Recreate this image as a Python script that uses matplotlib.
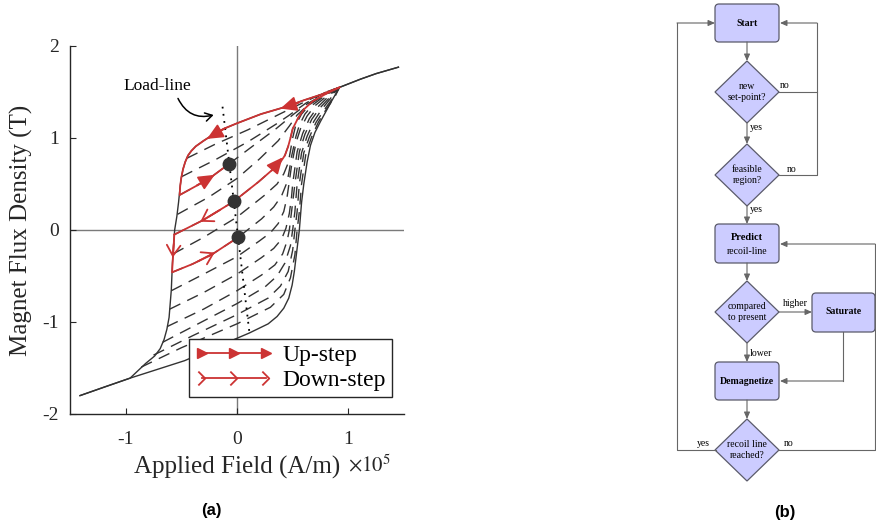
import matplotlib
matplotlib.use('Agg')
import matplotlib.pyplot as plt
from matplotlib.patches import FancyBboxPatch, Polygon
from matplotlib.lines import Line2D
from matplotlib.path import Path

plt.rcParams['font.family'] = ['Liberation Serif', 'DejaVu Serif']
plt.rcParams['mathtext.fontset'] = 'stix'
plt.rcParams['axes.unicode_minus'] = False

# ---------------- data (H in 1e5 A/m, B in T) ----------------
upper_H = [1.45, 1.25, 1.11, 0.92, 0.75, 0.60, 0.44, 0.215, 0.0, -0.12, -0.21, -0.30, -0.37,
           -0.41, -0.44, -0.465, -0.485, -0.50, -0.51, -0.525, -0.54, -0.56, -0.58, -0.59,
           -0.61, -0.63, -0.655, -0.69, -0.74, -0.82, -0.96, -1.22, -1.41]
upper_B = [1.77, 1.70, 1.64, 1.55, 1.47, 1.41, 1.34, 1.26, 1.16, 1.10, 1.04, 0.97, 0.91,
           0.86, 0.81, 0.74, 0.66, 0.57, 0.48, 0.30, 0.15, 0.0, -0.36, -0.65,
           -0.95, -1.08, -1.19, -1.29, -1.37, -1.45, -1.61, -1.72, -1.80]
lower_H = [-1.41, -1.20, -0.96, -0.47, -0.20, 0.11, 0.28, 0.36, 0.42, 0.465, 0.495, 0.515,
           0.535, 0.56, 0.58, 0.60, 0.63, 0.66, 0.70, 0.75, 0.84, 0.92, 1.11, 1.25, 1.45]
lower_B = [-1.80, -1.71, -1.61, -1.42, -1.28, -1.12, -1.02, -0.94, -0.85, -0.74, -0.60, -0.45,
           -0.25, 0.0, 0.3, 0.5, 0.74, 0.92, 1.06, 1.18, 1.38, 1.55, 1.64, 1.70, 1.77]

recoil_H = [
    [-0.45, -0.2, 0.1, 0.40, 0.62, 0.80, 0.92],
    [-0.497, -0.2, 0.1, 0.35, 0.46, 0.62, 0.80, 0.92],
    [-0.515, -0.26, -0.07, 0.15, 0.35, 0.51, 0.63, 0.80, 0.92],
    [-0.535, -0.25, 0.0, 0.2, 0.37, 0.47, 0.54, 0.64, 0.80, 0.92],
    [-0.563, -0.30, -0.03, 0.19, 0.38, 0.43, 0.46, 0.48, 0.50, 0.55, 0.60, 0.68, 0.80, 0.92],
    [-0.574, -0.3, 0.0, 0.25, 0.36, 0.42, 0.46, 0.48, 0.50, 0.53, 0.58, 0.66, 0.80, 0.92],
    [-0.583, -0.40, -0.23, 0.01, 0.22, 0.33, 0.40, 0.45, 0.47, 0.49, 0.53, 0.56, 0.61, 0.68,
     0.80, 0.92],
    [-0.59, -0.3, 0.0, 0.2, 0.30, 0.37, 0.42, 0.45, 0.47, 0.49, 0.53, 0.57, 0.63, 0.70, 0.80,
     0.92],
    [-0.604, -0.3, 0.0, 0.22, 0.33, 0.40, 0.44, 0.47, 0.49, 0.50, 0.54, 0.59, 0.65, 0.72,
     0.82, 0.92],
    [-0.628, -0.3, 0.0, 0.22, 0.34, 0.41, 0.45, 0.47, 0.49, 0.52, 0.56, 0.61, 0.67, 0.74,
     0.84, 0.92],
    [-0.667, -0.35, 0.0, 0.25, 0.36, 0.43, 0.48, 0.50, 0.52, 0.54, 0.58, 0.63, 0.69, 0.76,
     0.86, 0.92],
    [-0.75, -0.4, 0.0, 0.28, 0.39, 0.46, 0.50, 0.52, 0.54, 0.56, 0.60, 0.65, 0.71, 0.78,
     0.87, 0.92],
    [-0.86, -0.5, 0.0, 0.30, 0.42, 0.48, 0.52, 0.54, 0.56, 0.58, 0.62, 0.67, 0.73, 0.79,
     0.88, 0.92],
]
recoil_B = [
    [0.78, 0.93, 1.09, 1.27, 1.40, 1.50, 1.55],
    [0.58, 0.76, 0.96, 1.15, 1.24, 1.38, 1.50, 1.55],
    [0.38, 0.55, 0.72, 0.92, 1.10, 1.26, 1.37, 1.49, 1.55],
    [0.17, 0.36, 0.56, 0.77, 0.97, 1.13, 1.25, 1.36, 1.48, 1.55],
    [-0.05, 0.11, 0.31, 0.52, 0.72, 0.81, 0.91, 1.00, 1.10, 1.22, 1.31, 1.40, 1.48, 1.55],
    [-0.26, -0.08, 0.14, 0.38, 0.50, 0.61, 0.73, 0.86, 1.00, 1.15, 1.26, 1.37, 1.48, 1.55],
    [-0.46, -0.37, -0.27, -0.08, 0.12, 0.25, 0.37, 0.52, 0.65, 0.80, 1.02, 1.14, 1.26, 1.36,
     1.47, 1.55],
    [-0.66, -0.48, -0.29, -0.12, -0.03, 0.07, 0.20, 0.36, 0.53, 0.70, 0.95, 1.10, 1.24, 1.35,
     1.45, 1.55],
    [-0.86, -0.68, -0.48, -0.30, -0.20, -0.10, 0.02, 0.18, 0.36, 0.50, 0.85, 1.05, 1.21, 1.33,
     1.45, 1.55],
    [-1.05, -0.86, -0.66, -0.49, -0.38, -0.26, -0.12, 0.0, 0.2, 0.5, 0.85, 1.04, 1.20, 1.32,
     1.45, 1.55],
    [-1.22, -1.02, -0.80, -0.62, -0.50, -0.36, -0.17, 0.0, 0.2, 0.5, 0.84, 1.02, 1.18, 1.31,
     1.46, 1.55],
    [-1.36, -1.15, -0.92, -0.74, -0.61, -0.45, -0.22, 0.0, 0.2, 0.5, 0.84, 1.01, 1.17, 1.30,
     1.45, 1.55],
    [-1.49, -1.28, -1.02, -0.84, -0.70, -0.52, -0.27, 0.0, 0.2, 0.5, 0.84, 1.01, 1.17, 1.29,
     1.45, 1.55],
]

red_up_H = [0.92, 0.75, 0.60, 0.44, 0.215, 0.0, -0.12, -0.21, -0.30, -0.37, -0.41, -0.44,
            -0.465, -0.485, -0.50, -0.51, -0.515, -0.26, -0.07]
red_up_B = [1.55, 1.47, 1.41, 1.34, 1.26, 1.16, 1.10, 1.04, 0.97, 0.91, 0.86, 0.81,
            0.74, 0.66, 0.57, 0.48, 0.38, 0.55, 0.72]
red_mid_H = [-0.563, -0.30, -0.03, 0.19, 0.38, 0.43, 0.46, 0.48, 0.50, 0.55, 0.60, 0.68,
             0.80, 0.92]
red_mid_B = [-0.05, 0.11, 0.31, 0.52, 0.72, 0.81, 0.91, 1.00, 1.10, 1.22, 1.31, 1.40,
             1.48, 1.55]
red_low_H = [-0.563, -0.568, -0.574, -0.583, -0.40, -0.23, 0.01]
red_low_B = [-0.05, -0.15, -0.26, -0.46, -0.37, -0.27, -0.08]

op_H = [-0.07, -0.03, 0.01]
op_B = [0.72, 0.31, -0.08]
load_H = [-0.13, 0.11]
load_B = [1.34, -1.10]

# arrow heads along red paths: (tail H, tail B, tip H, tip B)
up_arrows = [(0.55, 1.38, 0.39, 1.32), (-0.10, 1.11, -0.27, 0.99),
             (-0.36, 0.485, -0.20, 0.60), (0.31, 0.645, 0.41, 0.79)]
down_arrows = [(-0.15, 0.22, -0.33, 0.09), (-0.568, -0.15, -0.577, -0.30),
               (-0.35, -0.34, -0.20, -0.245)]

x_ticks = [-1, 0, 1]
y_ticks = [-2, -1, 0, 1, 2]
legend_labels = ['Up-step', 'Down-step']

RED = '#cc3333'
DARK = '#333333'

# ---------------- figure ----------------
fig = plt.figure(figsize=(8.76, 5.27), dpi=100)
W, H = 876, 527
ax = fig.add_axes([70 / W, 1 - 414 / H, 334 / W, 368 / H])
ax.set_xlim(-1.5, 1.5)
ax.set_ylim(-2, 2)

ax.axhline(0, color='#7a7a7a', lw=1.0, zorder=1)
ax.axvline(0, color='#7a7a7a', lw=1.0, zorder=1)

for rh, rb in zip(recoil_H, recoil_B):
    ax.plot(rh, rb, color=DARK, lw=1.0, dashes=(8.5, 5.5), zorder=2)
ax.plot(upper_H, upper_B, color=DARK, lw=1.0, zorder=3)
ax.plot(lower_H, lower_B, color=DARK, lw=1.0, zorder=3)

ax.plot(load_H, load_B, color='black', lw=1.3, linestyle=(0, (1, 3)), zorder=3)

for hh, bb in [(red_up_H, red_up_B), (red_mid_H, red_mid_B), (red_low_H, red_low_B)]:
    ax.plot(hh, bb, color=RED, lw=1.3, zorder=4)

for th, tb, ph, pb in up_arrows:
    ax.annotate('', xy=(ph, pb), xytext=(th, tb),
                arrowprops=dict(arrowstyle='-|>,head_length=0.7,head_width=0.32',
                                color=RED, lw=1.3, mutation_scale=14,
                                shrinkA=0, shrinkB=0), zorder=5)
for th, tb, ph, pb in down_arrows:
    ax.annotate('', xy=(ph, pb), xytext=(th, tb),
                arrowprops=dict(arrowstyle='->,head_length=0.55,head_width=0.35',
                                color=RED, lw=1.3, mutation_scale=14,
                                shrinkA=0, shrinkB=0), zorder=5)

ax.plot(op_H, op_B, 'o', color=DARK, markersize=9, zorder=6)

ax.text(-0.72, 1.56, 'Load-line', fontsize=12.5, ha='center', va='center')
ax.annotate('', xy=(-0.21, 1.25), xytext=(-0.53, 1.43),
            arrowprops=dict(arrowstyle='->,head_length=0.5,head_width=0.3',
                            connectionstyle='arc3,rad=0.4', color='black', lw=1.1,
                            shrinkA=0, shrinkB=0))

for s in ['top', 'right']:
    ax.spines[s].set_visible(False)
for s in ['left', 'bottom']:
    ax.spines[s].set_color('#262626')
    ax.spines[s].set_linewidth(1.0)
ax.set_xticks(x_ticks)
ax.set_yticks(y_ticks)
ax.tick_params(direction='in', length=4, width=0.8, labelsize=14, colors='#262626')
ax.tick_params(axis='x', pad=12)
ax.tick_params(axis='y', pad=8)

ax.set_xlabel('Applied Field (A/m)', fontsize=18, color='#262626')
ax.xaxis.set_label_coords(0.5, -0.115)
ax.set_ylabel('Magnet Flux Density (T)', fontsize=18, color='#262626')
ax.yaxis.set_label_coords(-0.11, 0.5)
fig.text(348 / W, 1 - 476 / H, r'$\times 10^5$', fontsize=15, ha='left', va='bottom',
         color='#262626')

chevron = Path([(-0.6, 1.0), (0.4, 0.0), (-0.6, -1.0)],
               [Path.MOVETO, Path.LINETO, Path.LINETO])
handles = [Line2D([], [], color=RED, lw=1.3, marker='>', markersize=7),
           Line2D([], [], color=RED, lw=1.3, marker=chevron, markersize=10,
                  markerfacecolor='none', markeredgewidth=1.3)]
leg = ax.legend(handles, legend_labels, loc='lower right', bbox_to_anchor=(0.964, 0.046),
                borderaxespad=0, fontsize=17, numpoints=3, handlelength=3.3,
                handletextpad=0.4, labelspacing=0.15, borderpad=0.25, fancybox=False,
                edgecolor='#262626', framealpha=1)
leg.get_frame().set_linewidth(1.0)

fig.text(211 / W, 1 - 511 / H, '(a)', fontsize=12, fontweight='bold',
         family='Liberation Sans', ha='center', va='center')
fig.text(785 / W, 1 - 512 / H, '(b)', fontsize=12, fontweight='bold',
         family='Liberation Sans', ha='center', va='center')

# ---------------- flowchart (pixel coordinates) ----------------
fc = fig.add_axes([660 / W, 0, 216 / W, 1])
fc.set_xlim(660, 876)
fc.set_ylim(527, 0)
fc.axis('off')

FILL = '#ccccff'
EDGE = '#5a5a6a'
LINE = '#666666'
FS = 7

box_names = ['Start', 'Predict', 'Saturate', 'Demagnetize']
box_x = [715, 715, 812, 715]
box_y = [4, 224, 293, 362]
box_w = [64, 64, 63, 64]
box_h = [38, 39, 39, 38]
for x0, y0, w, h in zip(box_x, box_y, box_w, box_h):
    fc.add_patch(FancyBboxPatch((x0, y0), w, h, boxstyle='round,pad=0,rounding_size=4',
                                facecolor=FILL, edgecolor=EDGE, lw=0.9, clip_on=False))
fc.text(747, 23, 'Start', fontsize=FS, fontweight='bold', ha='center', va='center')
fc.text(747, 238, 'Predict', fontsize=FS + 0.5, fontweight='bold', ha='center', va='center')
fc.text(747, 251, 'recoil-line', fontsize=FS, ha='center', va='center')
fc.text(843.5, 312, 'Saturate', fontsize=FS, fontweight='bold', ha='center', va='center')
fc.text(747, 381, 'Demagnetize', fontsize=FS, fontweight='bold', ha='center', va='center')

dia_text = ['new\nset-point?', 'feasible\nregion?', 'compared\nto present', 'recoil line\nreached?']
dia_cy = [92, 175, 312, 450]
for t, cy in zip(dia_text, dia_cy):
    fc.add_patch(Polygon([(747, cy - 31), (779, cy), (747, cy + 31), (715, cy)],
                         closed=True, facecolor=FILL, edgecolor=EDGE, lw=0.9))
    fc.text(747, cy, t, fontsize=FS, ha='center', va='center', linespacing=1.25)


def seg(pts, arrow=False):
    xs = [p[0] for p in pts]
    ys = [p[1] for p in pts]
    if arrow:
        fc.plot(xs[:-1], ys[:-1], color=LINE, lw=0.8, clip_on=False)
        fc.annotate('', xy=pts[-1], xytext=pts[-2],
                    arrowprops=dict(arrowstyle='-|>,head_length=0.5,head_width=0.22',
                                    color=LINE, lw=0.8, mutation_scale=8,
                                    shrinkA=0, shrinkB=0), annotation_clip=False)
    else:
        fc.plot(xs, ys, color=LINE, lw=0.8, clip_on=False)


seg([(747, 42), (747, 61)], True)
seg([(747, 123), (747, 144)], True)
seg([(779, 92), (817, 92)])
seg([(779, 175), (817, 175), (817, 23), (780, 23)], True)
seg([(747, 206), (747, 224)], True)
seg([(747, 263), (747, 281)], True)
seg([(779, 312), (812, 312)], True)
seg([(747, 343), (747, 362)], True)
seg([(843, 332), (843, 381), (780, 381)], True)
seg([(747, 400), (747, 419)], True)
seg([(716, 450), (677, 450), (677, 23), (715, 23)], True)
seg([(778, 450), (875, 450), (875, 244), (780, 244)], True)

fc.text(750, 127, 'yes', fontsize=FS, ha='left', va='center')
fc.text(780, 86, 'no', fontsize=FS, ha='left', va='center')
fc.text(787, 169, 'no', fontsize=FS, ha='left', va='center')
fc.text(750, 209, 'yes', fontsize=FS, ha='left', va='center')
fc.text(783, 304, 'higher', fontsize=FS, ha='left', va='center')
fc.text(750, 353, 'lower', fontsize=FS, ha='left', va='center')
fc.text(697, 443, 'yes', fontsize=FS, ha='left', va='center')
fc.text(784, 443, 'no', fontsize=FS, ha='left', va='center')

fig.savefig('out.png', dpi=100)
